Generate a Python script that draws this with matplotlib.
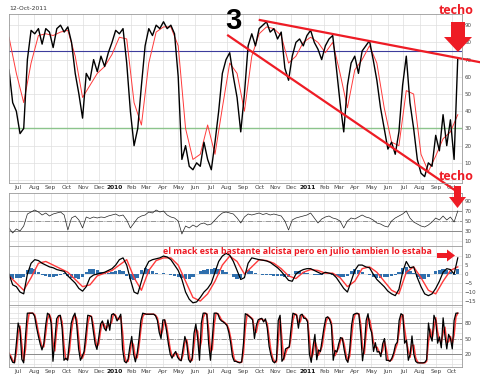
import numpy as np
import pandas as pd
import matplotlib
matplotlib.use('Agg')
import matplotlib.pyplot as plt
from matplotlib.patches import Polygon

# --- data (12-Oct-2011) ---
start, end = '2009-06-14', '2011-10-12'

# main oscillator, about one value per week
osc = [64, 45, 40, 27, 30, 70, 87, 85, 88, 79,
       88, 86, 77, 88, 90, 86, 89, 80, 62, 50,
       36, 62, 58, 70, 63, 72, 66, 74, 80, 87,
       85, 88, 68, 40, 20, 30, 55, 78, 88, 84,
       90, 88, 92, 88, 90, 85, 60, 12, 20, 8,
       6, 10, 8, 22, 12, 6, 22, 40, 62, 70,
       74, 60, 48, 28, 50, 78, 85, 78, 88, 90,
       92, 86, 88, 82, 86, 65, 58, 72, 80, 82,
       78, 84, 87, 80, 76, 70, 78, 82, 84, 65,
       45, 28, 55, 68, 72, 62, 75, 78, 81, 70,
       58, 42, 30, 18, 22, 15, 28, 55, 72, 45,
       30, 12, 4, 2, 10, 8, 26, 17, 38, 20,
       35, 12, 71]
# its signal line, every two weeks
osc_signal = [83, 62, 45, 68, 84, 85, 84, 86, 87, 72,
              48, 55, 62, 66, 73, 83, 82, 45, 32, 68,
              86, 89, 89, 78, 30, 12, 15, 32, 15, 42,
              68, 62, 40, 72, 85, 89, 88, 84, 68, 72,
              80, 83, 80, 74, 80, 62, 42, 64, 70, 78,
              68, 42, 22, 20, 52, 50, 15, 5, 14, 24,
              28, 38]

# RSI, weekly
rsi = [36, 26, 34, 30, 40, 64, 68, 72, 68, 62,
       66, 60, 64, 66, 68, 62, 32, 56, 60, 52,
       36, 58, 55, 58, 56, 58, 57, 60, 62, 64,
       60, 62, 52, 36, 46, 56, 60, 62, 68, 66,
       72, 68, 70, 62, 58, 56, 50, 24, 40, 36,
       42, 38, 44, 46, 42, 44, 52, 60, 66, 68,
       66, 64, 56, 46, 58, 64, 62, 64, 66, 63,
       65, 62, 64, 62, 60, 50, 32, 52, 56, 58,
       60, 62, 66, 56, 46, 54, 58, 60, 56, 54,
       50, 36, 50, 56, 54, 58, 62, 58, 56, 52,
       46, 44, 40, 38, 50, 56, 60, 64, 70, 56,
       48, 44, 40, 38, 42, 48, 56, 52, 60, 52,
       58, 48, 70]

# MACD, weekly, signal every two weeks, histogram weekly
macd = [0, -6, -7, -10, -11, 0, 6, 8, 7.5, 6,
        5, 4, 3.5, 2.5, 2, 1.5, -1, -3, -5, -8,
        -9.5, -7, -2, -0.5, 0, 0.5, 1, 2, 3, 5,
        8, 9, 5, -3, -10, -11, -4, 3, 7, 8,
        8.5, 9, 10, 9.5, 8, 5, 2, -3, -10, -14,
        -16, -15.5, -13, -10, -8, -5, 1, 7, 10, 11.5,
        10.5, 7, 2, -3, -2, 6, 9, 8.5, 8, 7.7,
        7.3, 6.5, 5, 3.5, 1.5, -1, -3.5, -4, 0, 1.5,
        2.5, 3, 3, 2, 1, 0, 1, 0.5, 0, -2,
        -5, -8, -10, -4, 2, 5, 5, 4, 3.5, 0,
        -3, -5, -7, -9.5, -11, -12, -8.5, 1, 7, 3.5,
        4, -2, -7, -11, -12, -11, -8, -4, 1, 3,
        2.5, 0, 9]
macd_signal = [-1, -5, -9, -2, 6, 7, 5, 3, 1, -3,
               -7, -6, -1, 0.5, 2, 5, 8, -2, -9, 2,
               7.5, 9, 9, 5, -4, -13, -15, -11, -4, 5,
               10, 7, 0, 4, 8, 7.5, 6, 3, -1, -2.5,
               1, 2.5, 2, 0.5, 0.5, -2, -7, -4, 3, 4,
               1, -4, -9, -11, 1, 4, -2, -9, -11, -4,
               2, 4]
macd_hist = [-2, -2.5, -2, -2, -1.5, 2, 3.5, 3, 1, -0.5,
             -1, -1.5, -1.5, -1, -0.5, 0.5, -1, -2, -2, -2.5,
             -1.5, 1, 3, 3, 2, 1, 0.5, 0.5, 1, 1.5,
             2, 1.5, -1, -3, -3.5, -2, 2, 3.5, 3, 1.5,
             0.5, 0, 0.5, 0, -0.5, -1, -1.5, -2, -3, -2.5,
             -1.5, 0, 1.5, 2.5, 3, 3, 3.5, 3, 2, 1,
             0, -1.5, -2.5, -2, 0, 2, 1.5, 0.5, 0, -0.5,
             -0.5, -0.5, -1, -1, -1, -1.5, -1.5, 0, 1.5, 1.5,
             1, 0.5, 0.3, -0.3, -0.5, -0.5, 0.2, 0, -0.3, -1,
             -1.5, -1.5, -1, 1.5, 3, 2.5, 1, 0.2, -0.5, -1.5,
             -2, -2, -1.5, -1.5, -1, -0.5, 1, 3.5, 4, 1.5,
             0.5, -1.5, -2.5, -2.5, -1.5, 0, 1.5, 2.5, 3, 2.5,
             1, -0.5, 3]

# stochastic, two values per week
stoch = [20, 12, 4, 3, 40, 80, 67, 10, 3, 55,
         99, 99, 99, 99, 93, 72, 55, 40, 28, 40,
         75, 99, 96, 80, 6, 45, 88, 94, 95, 70,
         8, 12, 8, 45, 80, 92, 99, 75, 30, 8,
         16, 25, 60, 95, 94, 92, 65, 40, 29, 52,
         78, 84, 70, 65, 86, 66, 96, 98, 94, 84,
         90, 97, 30, 6, 3, 10, 35, 54, 20, 5,
         22, 50, 85, 99, 98, 97, 97, 97, 97, 97,
         94, 85, 62, 50, 86, 86, 65, 40, 20, 12,
         20, 25, 14, 9, 7, 30, 54, 42, 10, 4,
         12, 60, 78, 50, 8, 80, 99, 99, 97, 40,
         8, 50, 99, 99, 98, 88, 84, 82, 79, 75,
         62, 42, 15, 6, 6, 4, 3, 5, 40, 98,
         96, 93, 90, 86, 50, 75, 86, 88, 89, 82,
         88, 70, 35, 18, 6, 3, 8, 85, 95, 6,
         12, 30, 32, 34, 70, 99, 97, 95, 70, 95,
         97, 89, 89, 82, 20, 4, 35, 58, 9, 28,
         25, 48, 72, 90, 92, 87, 76, 8, 27, 24,
         40, 52, 50, 28, 10, 4, 29, 75, 96, 98,
         99, 97, 60, 7, 35, 85, 98, 72, 61, 25,
         42, 24, 25, 15, 40, 50, 8, 8, 6, 12,
         22, 38, 43, 85, 98, 95, 41, 47, 8, 20,
         55, 20, 6, 3, 3, 3, 3, 4, 9, 80,
         55, 45, 95, 85, 41, 53, 32, 90, 55, 30,
         58, 50, 30, 85, 99, 99]
stoch_signal = [22, 16, 8, 4, 22, 60, 74, 38, 7, 29,
                77, 99, 99, 99, 96, 82, 63, 48, 34, 34,
                58, 87, 97, 88, 43, 26, 66, 91, 94, 82,
                39, 10, 10, 26, 62, 86, 95, 87, 52, 19,
                12, 20, 42, 78, 94, 93, 78, 52, 34, 40,
                65, 81, 77, 68, 75, 76, 81, 97, 96, 89,
                87, 93, 63, 18, 5, 6, 22, 44, 37, 12,
                13, 36, 68, 92, 98, 97, 97, 97, 97, 97,
                95, 90, 73, 56, 68, 86, 75, 52, 30, 16,
                16, 22, 20, 11, 8, 18, 42, 48, 26, 7,
                8, 36, 69, 64, 29, 44, 90, 99, 98, 68,
                24, 29, 75, 99, 98, 93, 86, 83, 80, 77,
                68, 52, 28, 10, 6, 5, 4, 4, 22, 69,
                97, 94, 91, 88, 68, 62, 80, 87, 88, 85,
                85, 79, 52, 26, 12, 5, 5, 46, 90, 50,
                9, 21, 31, 33, 52, 85, 98, 96, 82, 82,
                96, 93, 89, 85, 51, 12, 20, 46, 33, 18,
                26, 36, 60, 81, 91, 89, 81, 42, 17, 25,
                32, 46, 51, 39, 19, 7, 16, 52, 85, 97,
                98, 98, 78, 33, 21, 60, 91, 85, 66, 43,
                33, 33, 24, 20, 27, 45, 29, 8, 7, 9,
                17, 30, 40, 64, 91, 96, 68, 44, 27, 14,
                37, 37, 13, 5, 3, 3, 3, 3, 6, 44,
                68, 50, 70, 90, 63, 47, 42, 61, 72, 42,
                44, 54, 40, 57, 92, 99]

month_labels = ['Jul', 'Aug', 'Sep', 'Oct', 'Nov', 'Dec',
                '2010', 'Feb', 'Mar', 'Apr', 'May', 'Jun', 'Jul', 'Aug', 'Sep', 'Oct', 'Nov', 'Dec',
                '2011', 'Feb', 'Mar', 'Apr', 'May', 'Jun', 'Jul', 'Aug', 'Sep', 'Oct']
main_ticks = [0, 10, 20, 30, 40, 50, 60, 70, 80, 90]
main_tick_labels = ['', '10', '20', '30', '40', '50', '60', '70', '80', '90']  # 0 sits under "techo"

# hand drawn trend lines (date, value)
lower_line = (['2010-08-03', '2011-10-07'], [84, -6])
upper_line = (['2010-10-02', '2011-11-23'], [93, 68.5])

W, H = 480, 377
RED = '#ee1c25'
SIG = '#ff3a3a'

fig = plt.figure(figsize=(W / 100, H / 100), dpi=100)


def panel(top, bottom):
    return fig.add_axes([9 / W, 1 - bottom / H, (462 - 9) / W, (bottom - top) / H])


def dates(vals):
    return pd.date_range(start, end, periods=len(vals))


def fig_px(pts):
    return [(x / W, 1 - y / H) for x, y in pts]


ax1 = panel(14, 183)
ax2 = panel(193, 246)
ax3 = panel(246, 305)
ax4 = panel(305, 367)
month_ticks = pd.date_range('2009-07-01', '2011-10-01', freq='MS')

for ax in (ax1, ax2, ax3, ax4):
    ax.set_xlim(pd.Timestamp('2009-06-14'), pd.Timestamp('2011-10-20'))
    ax.set_xticks(month_ticks)
    ax.set_xticklabels([])
    ax.grid(True, color='#dedede', lw=0.5)
    ax.set_axisbelow(True)
    ax.yaxis.tick_right()
    ax.tick_params(length=0, labelsize=4, pad=2, colors='#444444')
    for s in ax.spines.values():
        s.set_color('#9a9a9a')
        s.set_linewidth(0.6)

for ax in (ax1, ax4):
    ax.set_xticklabels(month_labels)
    for lab in ax.get_xticklabels():
        if lab.get_text().startswith('20'):
            lab.set_fontweight('bold')
            lab.set_color('#111111')
    ax.tick_params(axis='x', pad=1.5, labelsize=4.2)

# main panel
ax1.set_ylim(-1.7, 96.5)
ax1.set_yticks(main_ticks)
ax1.set_yticklabels(main_tick_labels)
ax1.axhline(75, color='#3c3c9c', lw=0.8)
ax1.axhline(30, color='#8cc48c', lw=1.0)
ax1.plot(dates(osc_signal), osc_signal, color=SIG, lw=0.7)
ax1.plot(dates(osc), osc, color='black', lw=1.0)
ax1.plot(pd.to_datetime(lower_line[0]), lower_line[1], color=RED, lw=1.6, clip_on=False)
ax1.plot(pd.to_datetime(upper_line[0]), upper_line[1], color=RED, lw=1.6, clip_on=False)

# RSI panel
ax2.set_ylim(0, 106)
ax2.set_yticks([10, 30, 50, 70, 90])
ax2.axhline(70, color='#8a8a8a', lw=0.7)
ax2.axhline(30, color='#8a8a8a', lw=0.7)
ax2.axhline(50, color='#8a8a8a', lw=0.6, ls='-.')
ax2.plot(dates(rsi), rsi, color='#222222', lw=0.5)

# MACD panel
ax3.set_ylim(-17.2, 15.6)
ax3.set_yticks([-15, -10, -5, 0, 5, 10])
ax3.bar(dates(macd_hist), macd_hist, width=6, color='#2f6fad', lw=0)
ax3.plot(dates(macd_signal), macd_signal, color=SIG, lw=1.0)
ax3.plot(dates(macd), macd, color='black', lw=0.9)

# stochastic panel
ax4.set_ylim(-5, 114.8)
ax4.set_yticks([20, 50, 80])
ax4.set_yticks(range(0, 115, 10), minor=True)
ax4.grid(True, which='minor', axis='y', color='#dedede', lw=0.5)
ax4.tick_params(which='minor', length=0)
ax4.axhline(80, color='#8a8a8a', lw=0.7)
ax4.axhline(20, color='#8a8a8a', lw=0.7)
ax4.axhline(50, color='#8a8a8a', lw=0.6, ls='-.')
ax4.plot(dates(stoch_signal), stoch_signal, color=SIG, lw=1.1)
ax4.plot(dates(stoch), stoch, color='black', lw=0.9)

# annotations
fig.text(9 / W, 1 - 9 / H, '12-Oct-2011', fontsize=4.3, color='#333333', va='center')
fig.text(233 / W, 1 - 21 / H, '3', fontsize=21, fontweight='bold', color='black',
         ha='center', va='center', family='Liberation Sans')
for ty in (10, 177):
    fig.text(456 / W, 1 - ty / H, 'techo', fontsize=9, fontweight='bold', color=RED,
             ha='center', va='center', family='Open Sans')
fig.text(163 / W, 1 - 252 / H, 'el mack esta bastante alcista pero en julio tambien lo estaba',
         fontsize=6.4, fontweight='bold', color=RED, ha='left', va='center', family='Open Sans')

arrows = [
    [(451, 22), (465, 22), (465, 37), (472, 37), (458, 52), (444, 37), (451, 37)],
    [(454, 186), (461, 186), (461, 197), (466, 197), (457.5, 208), (449, 197), (454, 197)],
    [(437, 253), (447, 253), (447, 249.5), (455, 255.5), (447, 261.5), (447, 258), (437, 258)],
]
for pts in arrows:
    fig.patches.append(Polygon(fig_px(pts), closed=True, transform=fig.transFigure,
                               facecolor=RED, edgecolor='none', figure=fig))

fig.savefig('out.png', dpi=100)
